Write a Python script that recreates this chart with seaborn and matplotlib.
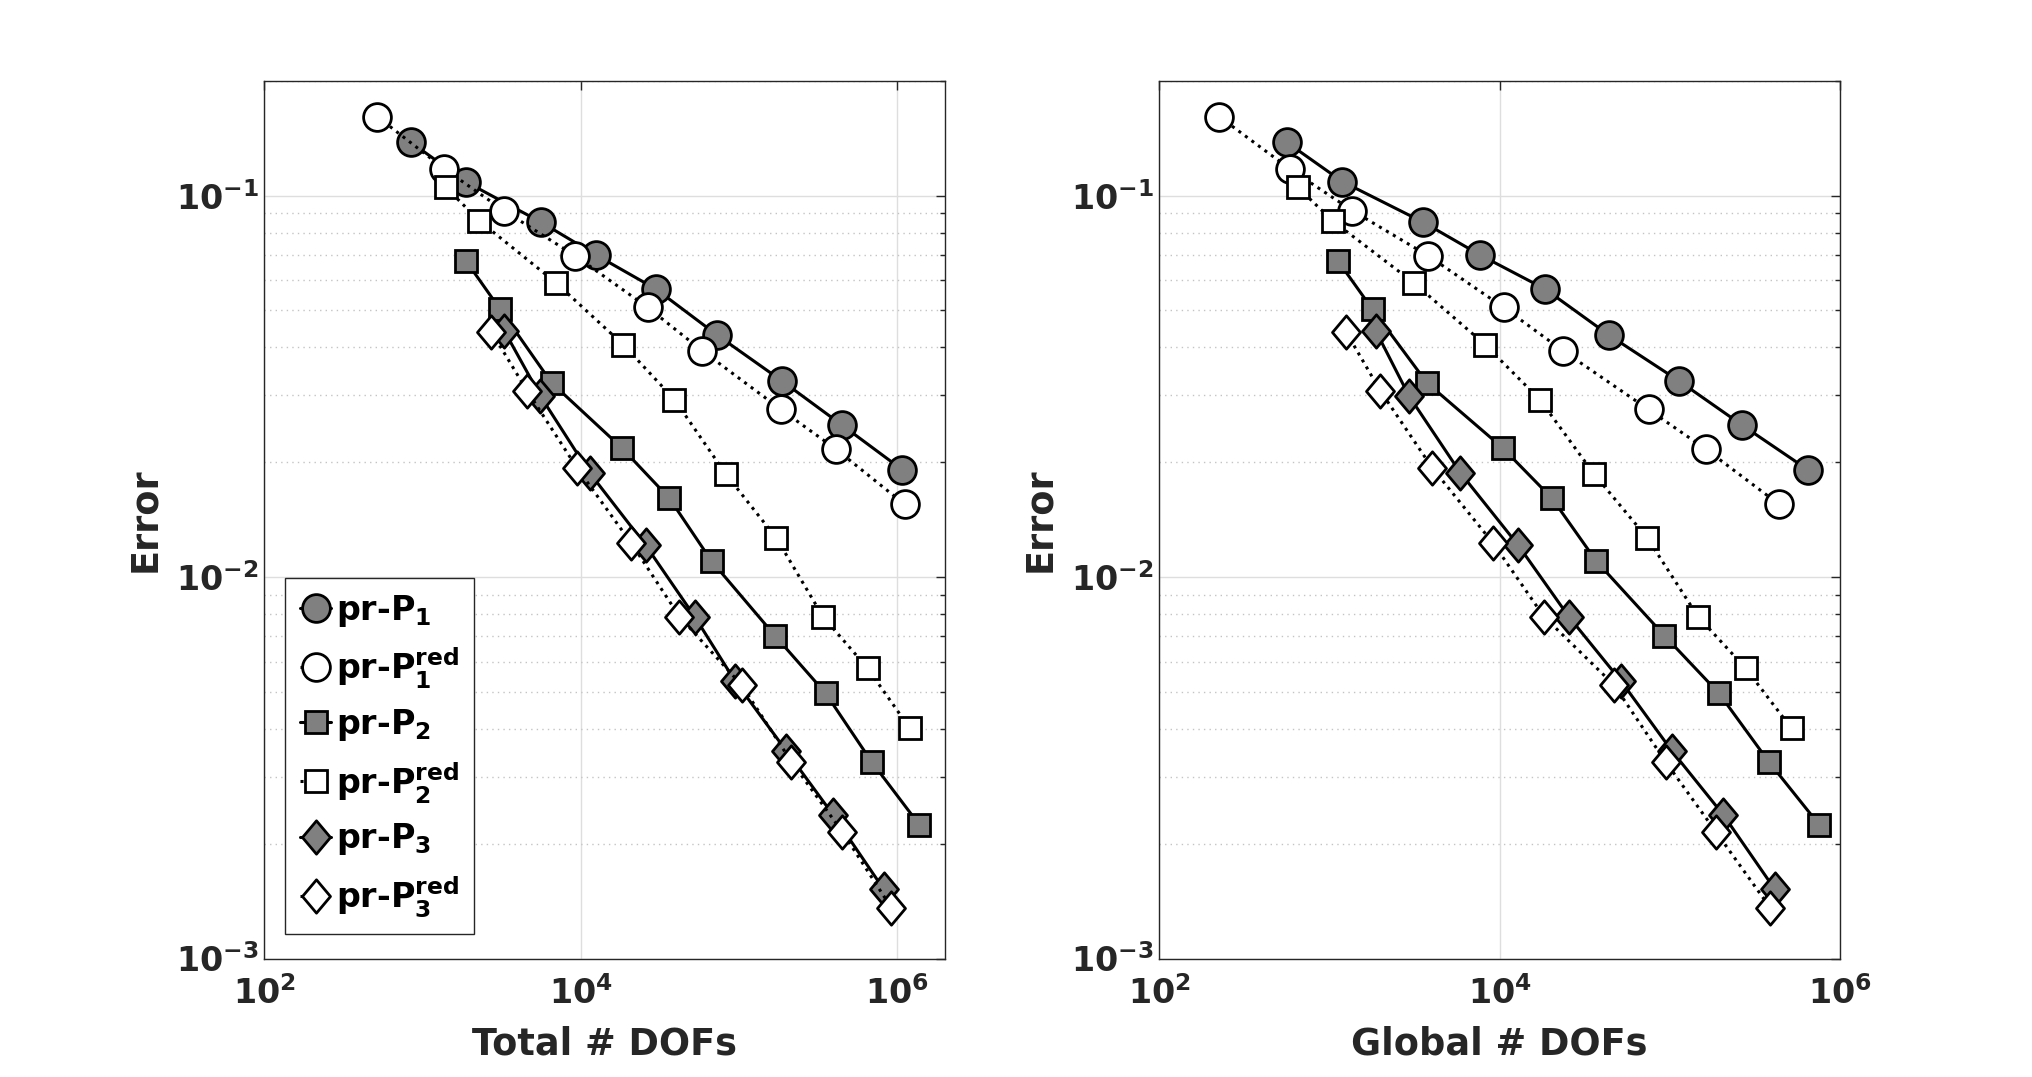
import numpy as np
import pandas as pd
import matplotlib
matplotlib.use("Agg")
import matplotlib.pyplot as plt
import seaborn as sns
from matplotlib.path import Path
from matplotlib.ticker import LogLocator, NullLocator, NullFormatter, FixedLocator

# ---------------- data ----------------
labels = [r"pr-P$_{1}$", r"pr-P$_{1}^{red}$", r"pr-P$_{2}$",
          r"pr-P$_{2}^{red}$", r"pr-P$_{3}$", r"pr-P$_{3}^{red}$"]

# errors (same for both panels)
err_P1 = [0.138, 0.1088, 0.0851, 0.0698, 0.0569, 0.0431, 0.0327, 0.0250, 0.0191]
err_P1red = [0.1612, 0.1175, 0.0914, 0.0695, 0.0509, 0.0392, 0.0275, 0.0216, 0.0155]
err_P2 = [0.0675, 0.0503, 0.0323, 0.0218, 0.0161, 0.0110, 0.00702, 0.00496, 0.00328, 0.00224]
err_P2red = [0.1052, 0.0859, 0.0591, 0.0407, 0.0292, 0.0186, 0.01265, 0.00788, 0.00577, 0.00401]
err_P3 = [0.0442, 0.0298, 0.01875, 0.0121, 0.00788, 0.00535, 0.0035, 0.00238, 0.00152]
err_P3red = [0.0440, 0.0308, 0.0193, 0.01228, 0.00788, 0.00521, 0.00328, 0.00215, 0.00136]

# total number of DOFs (left panel)
tot_P1 = [845, 1870, 5640, 12550, 29850, 72800, 186600, 450000, 1080000]
tot_P1red = [517, 1374, 3266, 9250, 26560, 58600, 184500, 413000, 1117000]
tot_P2 = [1880, 3100, 6550, 18200, 36300, 67300, 169000, 353000, 690000, 1383000]
tot_P2red = [1403, 2285, 6980, 18530, 39150, 82800, 172600, 339500, 650000, 1205000]
tot_P3 = [3290, 5570, 11400, 25800, 52500, 94200, 199500, 394000, 822000]
tot_P3red = [2723, 4580, 9500, 20850, 42100, 104000, 215000, 450000, 918000]

# global number of DOFs (right panel)
glob_P1 = [560, 1191, 3565, 7710, 18490, 43870, 113000, 267000, 650000]
glob_P1red = [224, 584, 1358, 3810, 10570, 23550, 75000, 164000, 440000]
glob_P2 = [1119, 1791, 3740, 10420, 20270, 37060, 93100, 194500, 382000, 757000]
glob_P2red = [650, 1042, 3127, 8200, 17220, 35970, 73900, 146500, 279000, 520000]
glob_P3 = [1871, 2937, 5885, 12890, 25460, 51500, 103000, 206500, 414000]
glob_P3red = [1248, 1986, 4025, 9140, 18200, 47100, 94500, 186600, 389000]

x_ticks = [1e2, 1e4, 1e6]
xlabel_left = "Total # DOFs"
xlabel_right = "Global # DOFs"
ylabel = "Error"

# ---------------- style ----------------
sns.set_style("white")
plt.rcParams["font.family"] = ["DejaVu Sans"]
plt.rcParams["font.weight"] = "bold"
plt.rcParams["mathtext.fontset"] = "dejavusans"
plt.rcParams["mathtext.default"] = "bf"

TXT = "#262626"
GREY = "#808080"
diamond = Path([(0, 1), (0.84, 0), (0, -1), (-0.84, 0), (0, 1)],
               [Path.MOVETO, Path.LINETO, Path.LINETO, Path.LINETO, Path.CLOSEPOLY])

series_style = [
    dict(marker="o", ms=20, face=GREY, ls="-"),
    dict(marker="o", ms=20, face="white", ls=":"),
    dict(marker="s", ms=15.5, face=GREY, ls="-"),
    dict(marker="s", ms=15.5, face="white", ls=":"),
    dict(marker=diamond, ms=24, face=GREY, ls="-"),
    dict(marker=diamond, ms=24, face="white", ls=":"),
]

errs = [err_P1, err_P1red, err_P2, err_P2red, err_P3, err_P3red]
tots = [tot_P1, tot_P1red, tot_P2, tot_P2red, tot_P3, tot_P3red]
globs = [glob_P1, glob_P1red, glob_P2, glob_P2red, glob_P3, glob_P3red]

fig = plt.figure(figsize=(20.33, 10.77), dpi=100)
axL = fig.add_axes([0.13, 0.11, 0.3347, 0.815])
axR = fig.add_axes([0.5703, 0.11, 0.3347, 0.815])


def setup(ax, xmax):
    ax.set_xscale("log")
    ax.set_yscale("log")
    ax.set_xlim(1e2, xmax)
    ax.set_ylim(1e-3, 0.2)


def draw(ax, xs_list, with_label):
    for k, (xs, ys, st) in enumerate(zip(xs_list, errs, series_style)):
        df = pd.DataFrame({"dofs": xs, "err": ys})
        kw = dict(label=labels[k]) if with_label else dict(legend=False)
        sns.lineplot(data=df, x="dofs", y="err", ax=ax, estimator=None, sort=False,
                     errorbar=None, color="black", linewidth=2.2, linestyle=st["ls"],
                     marker=st["marker"], markersize=st["ms"],
                     markerfacecolor=st["face"], markeredgecolor="black",
                     markeredgewidth=2.0, zorder=3 + k, **kw)


def finish(ax, xlabel):
    ax.xaxis.set_major_locator(FixedLocator(x_ticks))
    ax.xaxis.set_minor_locator(NullLocator())
    ax.yaxis.set_major_locator(LogLocator(base=10, numticks=10))
    ax.yaxis.set_minor_locator(LogLocator(base=10, subs=np.arange(2, 10), numticks=20))
    ax.yaxis.set_minor_formatter(NullFormatter())
    ax.set_axisbelow(True)
    ax.grid(True, which="major", color="#dedede", linestyle="-", linewidth=1.0)
    ax.grid(True, which="minor", axis="y", color="#c4c4c4", linestyle=(0, (1, 3)),
            linewidth=1.0)
    ax.tick_params(which="both", direction="in", top=True, right=True,
                   color=TXT, width=1.0, labelcolor=TXT)
    ax.tick_params(which="major", length=6.5, labelsize=24)
    ax.tick_params(which="minor", length=3.6)
    ax.tick_params(axis="x", which="major", pad=13)
    ax.tick_params(axis="y", which="major", pad=4)
    for sp in ax.spines.values():
        sp.set_visible(True)
        sp.set_color(TXT)
        sp.set_linewidth(1.0)
    ax.set_xlabel(xlabel, fontsize=26.4, fontweight="bold", color=TXT, labelpad=10)
    ax.set_ylabel(ylabel, fontsize=26.4, fontweight="bold", color=TXT, labelpad=9)


setup(axL, 2e6)
setup(axR, 1e6)
draw(axL, tots, True)
draw(axR, globs, False)
finish(axL, xlabel_left)
finish(axR, xlabel_right)
axL.set_xlim(1e2, 2e6)
axR.set_xlim(1e2, 1e6)
axL.set_ylim(1e-3, 0.2)
axR.set_ylim(1e-3, 0.2)

leg = axL.legend(loc="lower left", bbox_to_anchor=(0.030, 0.028), borderaxespad=0,
                 prop={"size": 24, "weight": "bold"}, frameon=True, fancybox=False,
                 edgecolor=TXT, framealpha=1, facecolor="white", handlelength=0.95,
                 handletextpad=0.15, labelspacing=0.5, borderpad=0.45,
                 labelcolor="black")
leg.get_frame().set_linewidth(1.0)
leg.set_zorder(20)

fig.savefig("out.png", dpi=100)
